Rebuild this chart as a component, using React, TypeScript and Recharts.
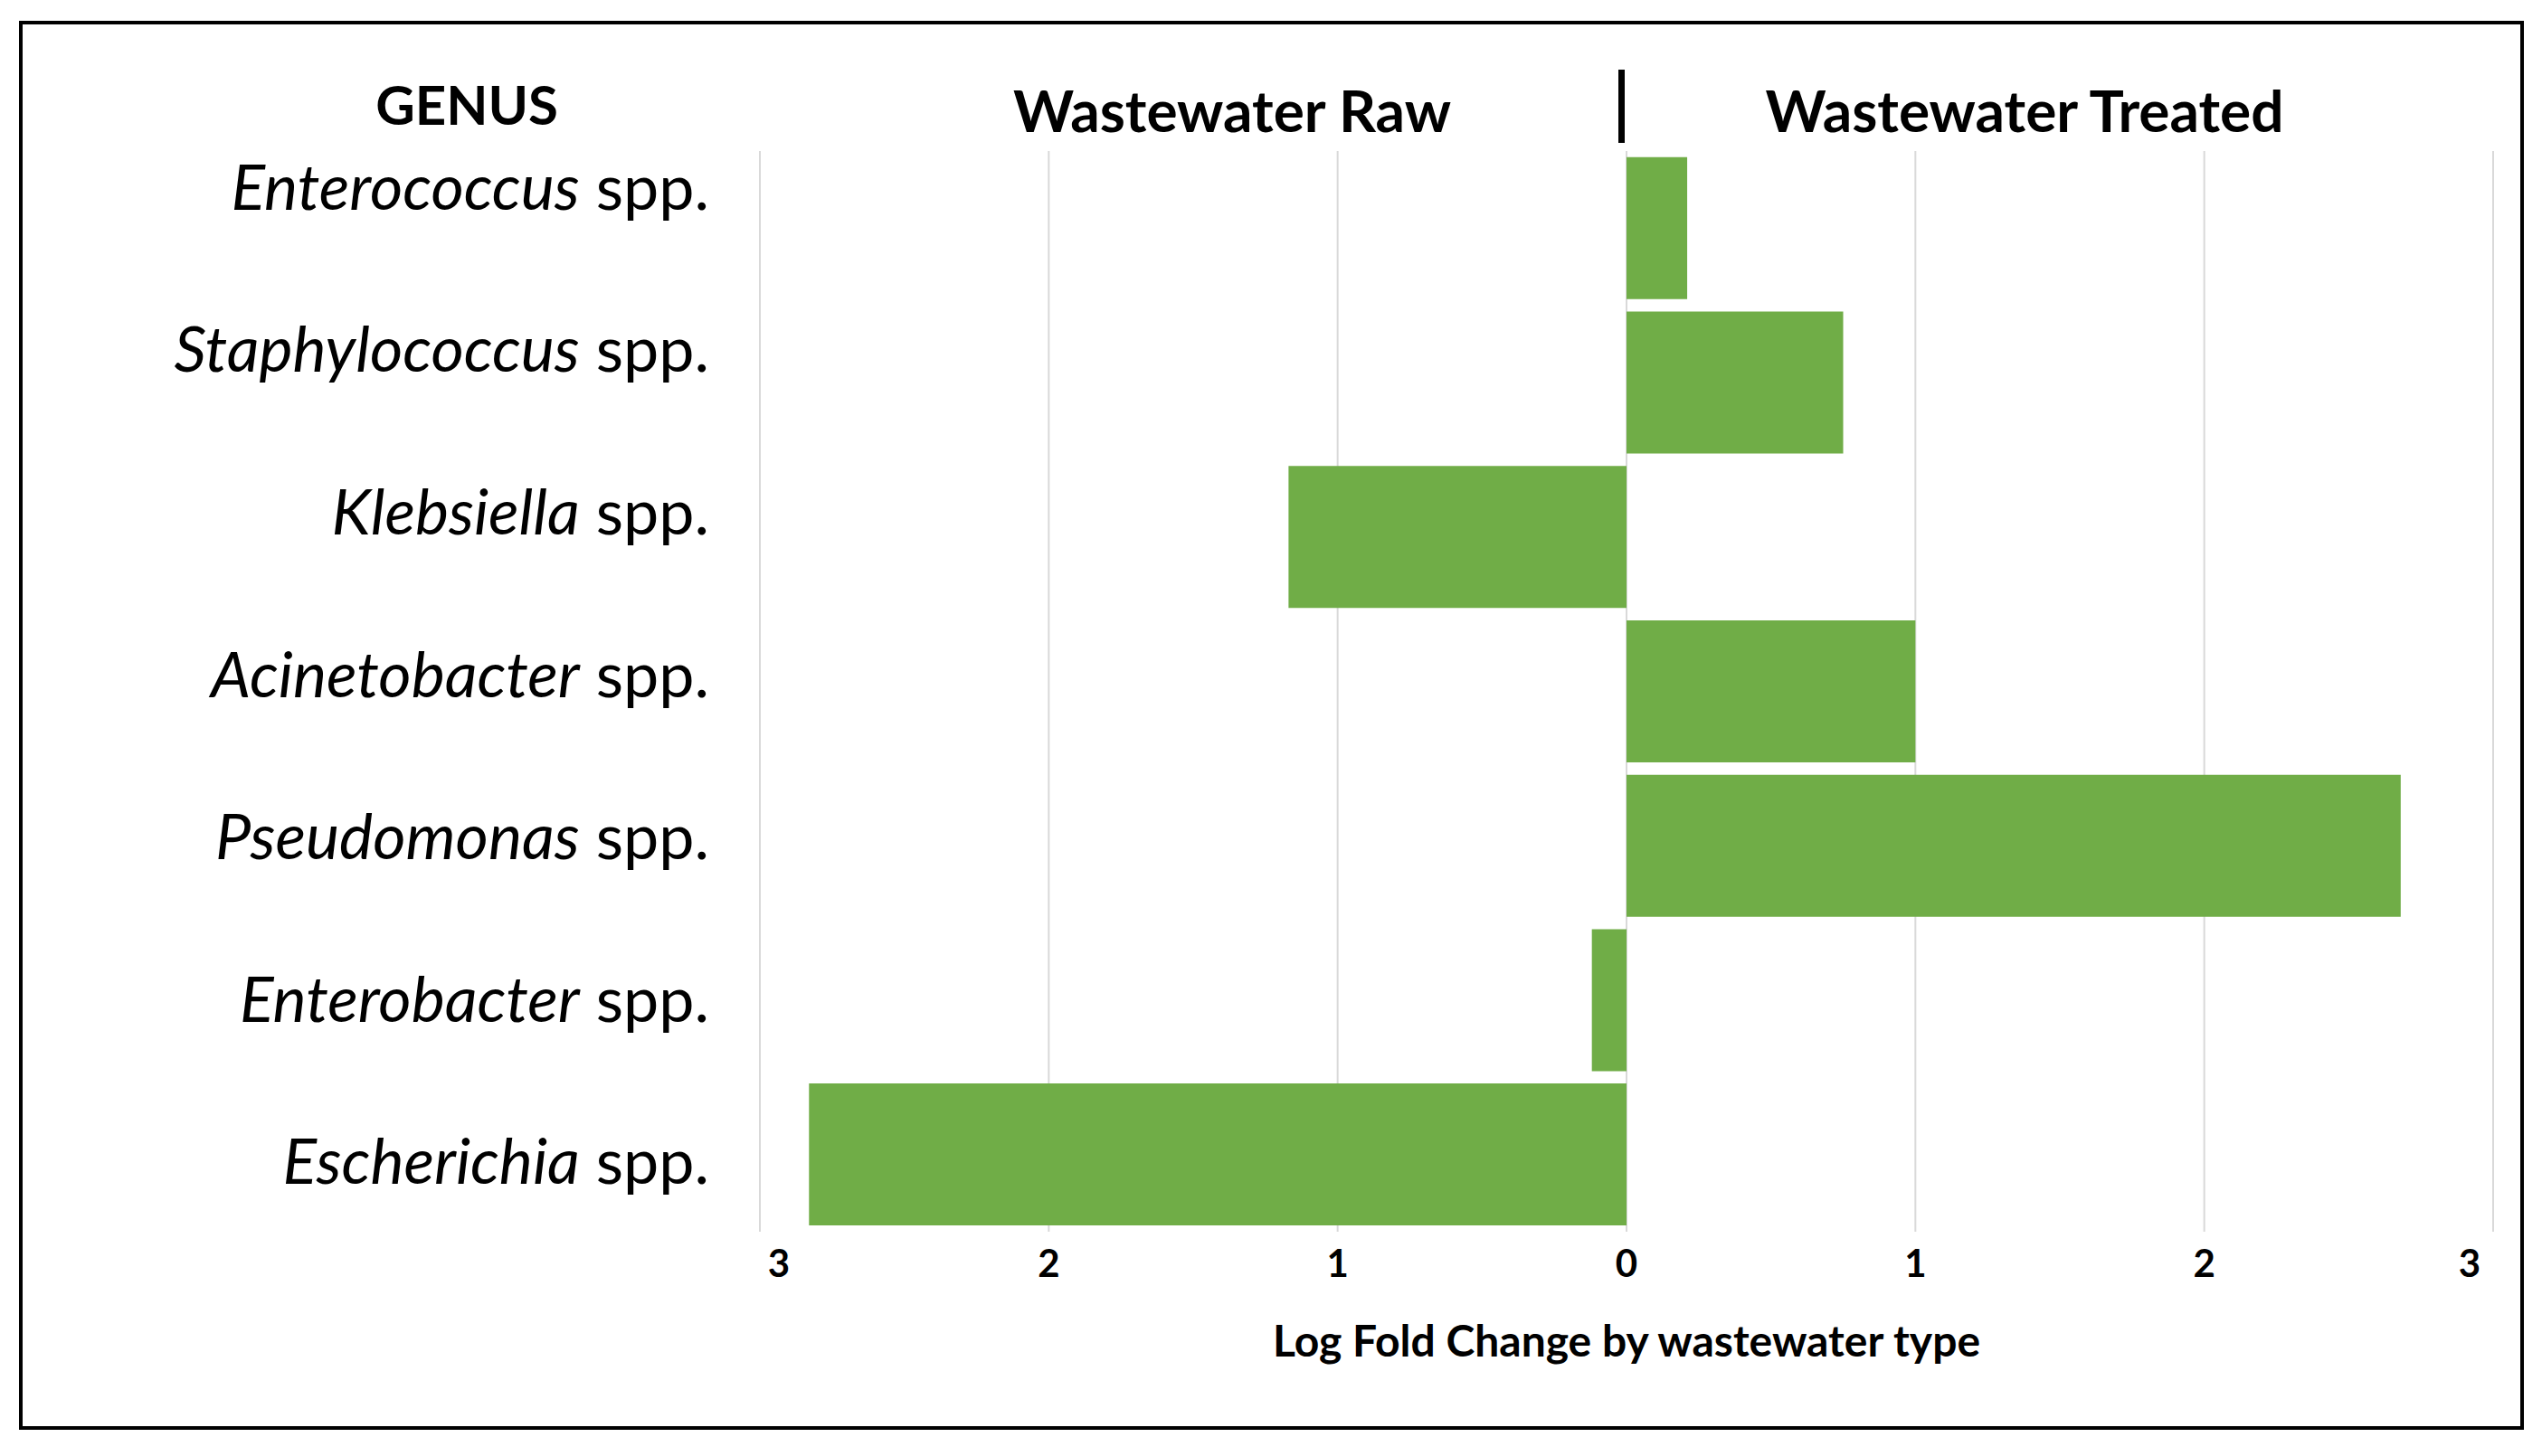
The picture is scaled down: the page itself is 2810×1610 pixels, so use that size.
import React from 'react';
import { BarChart, Bar, XAxis, YAxis, CartesianGrid } from 'recharts';

// genus names (top to bottom) and log fold change (negative = raw, positive = treated)
const genera = ['Enterococcus', 'Staphylococcus', 'Klebsiella', 'Acinetobacter', 'Pseudomonas', 'Enterobacter', 'Escherichia'];
const logFoldChange = [0.21, 0.75, -1.17, 1.0, 2.68, -0.12, -2.83];
const xTicks = [-3, -2, -1, 0, 1, 2, 3];

const data = genera.map((name, i) => ({ name, value: logFoldChange[i] }));

const FONT = 'Lato, "Open Sans", sans-serif';
const GREEN = '#70AD47';

const GenusTick = (props: any) => {
  const { x, y, payload } = props;
  return (
    <text x={x} y={y} dx={59} textAnchor="end" dominantBaseline="central" fontFamily={FONT} fontSize={70} fill="#000">
      <tspan fontStyle="italic">{payload.value}</tspan>
      <tspan> spp.</tspan>
    </text>
  );
};

const ValueTick = (props: any) => {
  const { x, y, payload } = props;
  // outer labels sit a little inside the gridlines, as in the original
  const shift = payload.value === -3 ? 21 : payload.value === 3 ? -26 : 0;
  return (
    <text x={x + shift} y={y} dy={42} textAnchor="middle" fontFamily={FONT} fontSize={42} fontWeight={700} fill="#000">
      {Math.abs(payload.value)}
    </text>
  );
};

const titleStyle: React.CSSProperties = {
  position: 'absolute',
  fontFamily: FONT,
  fontWeight: 700,
  fontSize: 64,
  color: '#000',
  whiteSpace: 'nowrap',
  transform: 'translate(-50%, -50%)',
  lineHeight: 1,
};

export default function App() {
  return (
    <div style={{ position: 'absolute', left: 0, top: 0, width: 2810, height: 1610, background: '#fff', overflow: 'hidden' }}>
      <div style={{ position: 'absolute', left: 21, top: 23, width: 2769, height: 1558, border: '4px solid #000', boxSizing: 'border-box' }} />
      <div style={{ ...titleStyle, fontSize: 60, left: 516, top: 115 }}>GENUS</div>
      <div style={{ ...titleStyle, left: 1362, top: 122 }}>Wastewater Raw</div>
      <div style={{ ...titleStyle, left: 2238, top: 122 }}>Wastewater Treated</div>
      <div style={{ position: 'absolute', left: 1789, top: 77, width: 7, height: 81, background: '#000' }} />
      <div style={{ position: 'absolute', left: 0, top: 0 }}>
        <BarChart
          width={2810}
          height={1610}
          data={data}
          layout="vertical"
          margin={{ top: 167, right: 54, left: 140, bottom: 0 }}
          barCategoryGap="4%"
        >
          <CartesianGrid horizontal={false} vertical stroke="#D9D9D9" strokeWidth={2} yAxisId="bars" />
          <XAxis
            type="number"
            domain={[-3, 3]}
            ticks={xTicks}
            axisLine={false}
            tickLine={false}
            height={248}
            tick={<ValueTick />}
            label={{ value: 'Log Fold Change by wastewater type', position: 'insideTop', offset: 104, fontFamily: FONT, fontSize: 48, fontWeight: 700, fill: '#000' }}
          />
          <YAxis yAxisId="bars" type="category" dataKey="name" hide />
          <YAxis
            yAxisId="labels"
            type="category"
            dataKey="name"
            width={700}
            axisLine={false}
            tickLine={false}
            tickSize={0}
            tickMargin={55}
            padding={{ top: -52, bottom: -10 }}
            tick={<GenusTick />}
          />
          <Bar yAxisId="bars" dataKey="value" fill={GREEN} isAnimationActive={false} />
        </BarChart>
      </div>
    </div>
  );
}
